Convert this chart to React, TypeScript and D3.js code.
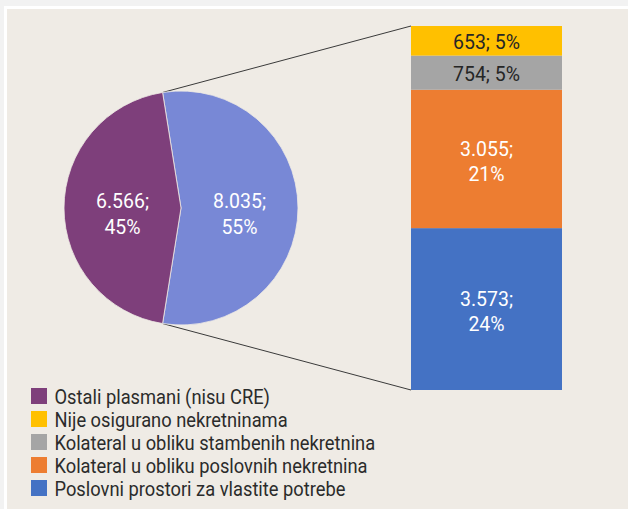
import React, { useLayoutEffect, useRef, useState } from "react";
import * as d3 from "d3";

const pieCategories = ["Poslovni prostori (CRE)", "Ostali plasmani (nisu CRE)"];
const pieValues = [8035, 6566];
const piePercents = [55, 45];
const pieColors = ["#7888d6", "#7e3f7b"];

const barCategories = [
  "Poslovni prostori za vlastite potrebe",
  "Kolateral u obliku poslovnih nekretnina",
  "Kolateral u obliku stambenih nekretnina",
  "Nije osigurano nekretninama",
];
const barValues = [3573, 3055, 754, 653];
const barPercents = [24, 21, 5, 5];
const barColors = ["#4472c4", "#ed7d31", "#a5a5a5", "#ffc000"];
const barTextColors = ["#ffffff", "#ffffff", "#262626", "#262626"];
const barTwoLine = [true, true, false, false];

const legendLabels = [
  "Ostali plasmani (nisu CRE)",
  "Nije osigurano nekretninama",
  "Kolateral u obliku stambenih nekretnina",
  "Kolateral u obliku poslovnih nekretnina",
  "Poslovni prostori za vlastite potrebe",
];
const legendColors = ["#7e3f7b", "#ffc000", "#a5a5a5", "#ed7d31", "#4472c4"];

const W = 628;
const H = 509;
const FONT = "Roboto, 'Liberation Sans', sans-serif";

const loc = d3.formatLocale({ decimal: ",", thousands: ".", grouping: [3], currency: ["", ""] });
const fmt = loc.format(",d");

export default function App() {
  const legendRef = useRef<SVGTextElement>(null);
  const labelRef = useRef<SVGTextElement>(null);
  const [legSx, setLegSx] = useState(0.9);
  const [labSx, setLabSx] = useState(0.88);

  useLayoutEffect(() => {
    if (legendRef.current) {
      const len = legendRef.current.getComputedTextLength();
      if (len > 0) setLegSx(321 / len);
    }
    if (labelRef.current) {
      const len = labelRef.current.getComputedTextLength();
      if (len > 0) setLabSx(67 / len);
    }
  }, []);

  const cx = 181, cy = 208, r = 117;
  const blueAngle = (2 * Math.PI * pieValues[0]) / d3.sum(pieValues);
  const start = Math.PI / 2 - blueAngle / 2;
  const pie = d3.pie<number>().sort(null).startAngle(start).endAngle(start + 2 * Math.PI);
  const arcs = pie(pieValues);
  const arcGen = d3.arc<d3.PieArcDatum<number>>().innerRadius(0).outerRadius(r);

  const barX0 = 411, barX1 = 562;
  const y = d3.scaleLinear().domain([0, d3.sum(barValues)]).range([390, 26]);
  let cum = 0;
  const segs = barValues.map((v, i) => {
    const s = { v, i, y0: y(cum + v), y1: y(cum) };
    cum += v;
    return s;
  });

  const pt = (a: number) => [cx + r * Math.sin(a), cy - r * Math.cos(a)];
  const pTop = pt(arcs[0].startAngle);
  const pBot = pt(arcs[0].endAngle);

  const fs = 21;
  const longest = legendLabels.reduce((a, b) => (b.length > a.length ? b : a), "");
  return (
    <svg width={W} height={H} style={{ position: "absolute", left: 0, top: 0 }} fontFamily={FONT}>
      <rect x={0} y={0} width={W} height={H} fill="#f2f2f2" />
      <rect x={4} y={6} width={W - 4} height={H - 6} fill="#ffffff" />
      <rect x={7} y={9} width={W - 7} height={H - 9} fill="#efebe5" />

      {/* hidden measurement texts */}
      <text ref={legendRef} x={-1000} y={-1000} fontSize={20} visibility="hidden">{"Kolateral u obliku stambenih nekretnina"}</text>
      <text ref={labelRef} x={-1000} y={-1000} fontSize={fs} visibility="hidden">{`${fmt(barValues[3])}; ${barPercents[3]}%`}</text>

      <line x1={pTop[0]} y1={pTop[1]} x2={barX0} y2={y.range()[1]} stroke="#3a3a3a" strokeWidth={1} />
      <line x1={pBot[0]} y1={pBot[1]} x2={barX0} y2={y.range()[0]} stroke="#3a3a3a" strokeWidth={1} />

      <g transform={`translate(${cx},${cy})`}>
        {arcs.map((a, i) => (
          <path key={i} d={arcGen(a) || ""} fill={pieColors[i]} stroke="#efebe5" strokeWidth={0.8} />
        ))}
        {arcs.map((a, i) => {
          const [lx, ly] = arcGen.centroid(a);
          return (
            <g key={"t" + i} transform={`translate(${lx},${ly}) scale(${labSx},1)`}>
              <text textAnchor="middle" fill="#fff" fontSize={fs}>
                <tspan x={0} y={0}>{fmt(pieValues[i])};</tspan>
                <tspan x={0} y={26}>{piePercents[i]}%</tspan>
              </text>
            </g>
          );
        })}
      </g>

      {segs.map((s) => {
        const mx = (barX0 + barX1) / 2;
        const my = (s.y0 + s.y1) / 2;
        return (
          <g key={"b" + s.i}>
            <rect x={barX0} y={s.y0} width={barX1 - barX0} height={s.y1 - s.y0} fill={barColors[s.i]} />
            <g transform={`translate(${mx},0) scale(${labSx},1)`}>
              {barTwoLine[s.i] ? (
                <text textAnchor="middle" fill={barTextColors[s.i]} fontSize={fs}>
                  <tspan x={0} y={my - 3}>{fmt(s.v)};</tspan>
                  <tspan x={0} y={my + 22}>{barPercents[s.i]}%</tspan>
                </text>
              ) : (
                <text x={0} y={my + 8.5} textAnchor="middle" fill={barTextColors[s.i]} fontSize={fs}>
                  {fmt(s.v)}; {barPercents[s.i]}%
                </text>
              )}
            </g>
          </g>
        );
      })}

      {legendLabels.map((l, i) => {
        const ry = 404 + i * 23;
        return (
          <g key={"l" + i}>
            <rect x={31} y={ry - 16} width={16} height={16} fill={legendColors[i]} />
            <g transform={`translate(54.5,${ry}) scale(${legSx},1)`}>
              <text x={0} y={0} fill="#2b2b2b" fontSize={20}>{l}</text>
            </g>
          </g>
        );
      })}
    </svg>
  );
}
